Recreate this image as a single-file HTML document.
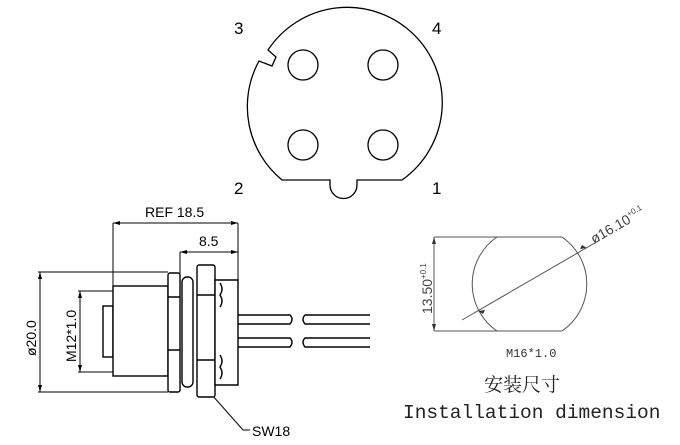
<!DOCTYPE html>
<html><head><style>body{margin:0;background:#fff}</style></head><body>
<svg width="680" height="440" xmlns="http://www.w3.org/2000/svg" font-family="Liberation Sans, sans-serif">
<rect width="680" height="440" fill="#fff"/>
<g fill="none" stroke="#000" stroke-width="1.3">
<path d="M282 180 A95 95 0 0 1 259 61 L272 66 L276 57 L268 50 A95 95 0 1 1 402 180 L357 180 L357 185 A13.5 13.5 0 0 1 330 185 L330 180 Z"/>
<circle cx="303" cy="65" r="15"/><circle cx="383" cy="65" r="15"/>
<circle cx="303" cy="145" r="15"/><circle cx="383" cy="145" r="15"/>
</g>
<g font-size="17" fill="#000">
<text x="234" y="34">3</text><text x="432" y="34">4</text>
<text x="234" y="194">2</text><text x="432" y="194">1</text>
</g>
<!-- side view -->
<g fill="none" stroke="#000" stroke-width="1">
<path d="M113 223 H238 M113 223 V286 M238 223 V282 M180 252 H238 M180 252 V274"/>
<path d="M38 272 H168 M38 392 H168 M40 272 V392"/>
<path d="M78 291 H113 M78 372 H113 M80 291 V372"/>
<path d="M212 395 L243 430 H250"/>
</g>
<g fill="#000">
<path d="M113 223 l7 -2 v4z M238 223 l-7 -2 v4z M180 252 l7 -2 v4z M238 252 l-7 -2 v4z M40 272 l-2 7 h4z M40 392 l-2 -7 h4z M80 291 l-2 7 h4z M80 372 l-2 -7 h4z"/>
</g>
<g fill="#fff" stroke="#000" stroke-width="1.4">
<rect x="103" y="306" width="10" height="51"/>
<rect x="113" y="286" width="55" height="90"/>
<rect x="168" y="273" width="12" height="119" rx="2"/>
<path d="M168 297 H180 M168 350 H180"/>
<rect x="182" y="277" width="11" height="110" rx="5"/>
<rect x="197" y="265" width="18" height="132" rx="2"/>
<path d="M197 295 H215 M197 360 H215"/>
<path d="M215 280 H238 V385 H215 Z"/>
<path d="M220 283 q4 6 0 12 q4 6 0 12 M220 355 q4 6 0 12 q4 6 0 12" fill="none"/>
<path d="M238 315 H290 q4 4 0 9 H238 M238 338 H290 q4 4 0 9 H238" fill="none"/>
<path d="M370 315 H305 q-4 4 0 9 H370 M370 338 H305 q-4 4 0 9 H370" fill="none"/>
</g>
<g font-size="14" fill="#000">
<text x="145" y="217">REF 18.5</text>
<text x="199" y="246">8.5</text>
<text x="252" y="436">SW18</text>
<text transform="translate(36,356) rotate(-90)">ø20.0</text>
<text transform="translate(76,362) rotate(-90)">M12*1.0</text>
</g>
<!-- installation -->
<g fill="none" stroke="#555" stroke-width="1">
<path d="M434 237 H562 M434 331 H562"/>
<path d="M497 237 A57 57 0 0 0 497 331 M562 237 A57 57 0 0 1 562 331"/>
<path d="M434 237 V331 M462 320 L600 240"/>
</g>
<g fill="#333"><path d="M434 237 l-2 7 h4z M434 331 l-2 -7 h4z M478 311 l7 -1 l-2 4z M587 248 l-7 1 l2 -4z"/></g>
<g font-size="14" fill="#444">
<text transform="translate(432,314) rotate(-90)">13.50<tspan font-size="8" dy="-6">+0.1</tspan></text>
<text transform="translate(594,244) rotate(-30)">ø16.10<tspan font-size="8" dy="-6">+0.1</tspan></text>
</g>
<text x="506" y="357" font-family="Liberation Mono, monospace" font-size="12" fill="#333">M16*1.0</text>
<text x="484" y="391" font-family="Noto Serif CJK SC, serif" font-size="19" fill="#222">安装尺寸</text>
<text x="403" y="418" font-family="Liberation Mono, monospace" font-size="19.5" fill="#222">Installation dimension</text>
</svg>
</body></html>
